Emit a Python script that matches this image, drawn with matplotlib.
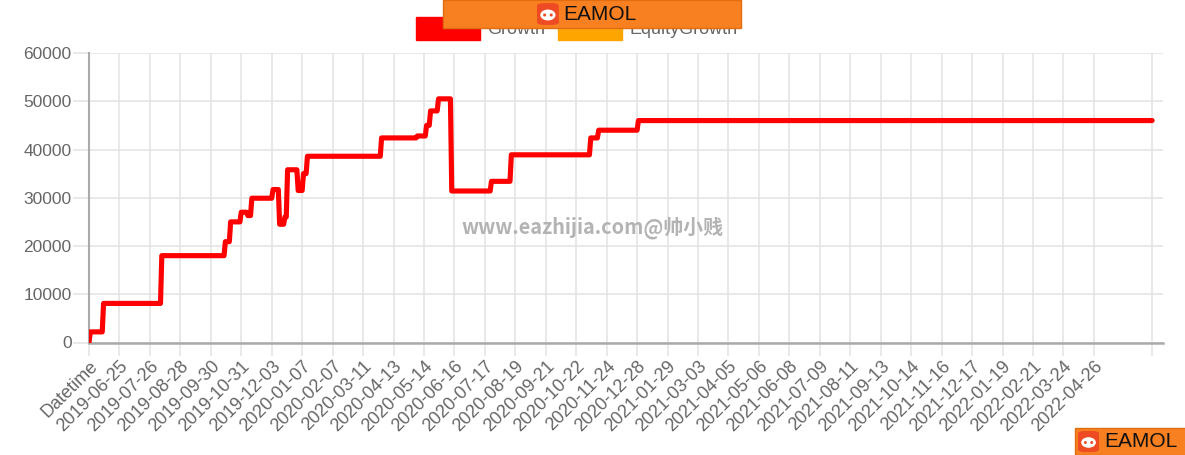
import matplotlib
matplotlib.use("Agg")
import matplotlib.pyplot as plt
import numpy as np
from matplotlib.patches import Rectangle, FancyBboxPatch, Ellipse

W, H = 1185, 455

# data: step changes of the Growth series, index = bar number (23 bars per labelled tick)
BARS_PER_TICK = 23
n_bars = 804
step_idx = [0, 1, 11, 55, 103, 107, 115, 120, 123, 139, 144, 148, 150, 158,
            162, 165, 221, 248, 255, 258, 264, 274, 304, 319, 379, 385, 415]
step_val = [0, 2200, 8100, 18000, 20900, 25000, 27000, 26300, 29900, 31700,
            24500, 26000, 35800, 31500, 35000, 38600, 42400, 42800, 45000,
            48000, 50500, 31400, 33400, 38900, 42400, 44000, 46000]

tick_labels = [
    "Datetime", "2019-06-25", "2019-07-26", "2019-08-28", "2019-09-30",
    "2019-10-31", "2019-12-03", "2020-01-07", "2020-02-07", "2020-03-11",
    "2020-04-13", "2020-05-14", "2020-06-16", "2020-07-17", "2020-08-19",
    "2020-09-21", "2020-10-22", "2020-11-24", "2020-12-28", "2021-01-29",
    "2021-03-03", "2021-04-05", "2021-05-06", "2021-06-08", "2021-07-09",
    "2021-08-11", "2021-09-13", "2021-10-14", "2021-11-16", "2021-12-17",
    "2022-01-19", "2022-02-21", "2022-03-24", "2022-04-26",
]
y_ticks = [0, 10000, 20000, 30000, 40000, 50000, 60000]

# expand the steps into one value per bar
growth = np.zeros(n_bars)
for i, start in enumerate(step_idx):
    growth[start:] = step_val[i]
bars = np.arange(n_bars)

FONT = "Liberation Sans"
GRID = "#e3e3e3"
TEXT = "#666666"


def fx(x):
    return x / W


def fy(y):
    return 1 - y / H


fig = plt.figure(figsize=(W / 100, H / 100), dpi=100)
ax = fig.add_axes([fx(89), fy(342.5), fx(1163 - 89), (342.5 - 53) / H])

ax.plot(bars, growth, color="#ff0000", lw=3.7, solid_joinstyle="round",
        solid_capstyle="round", zorder=3)

x_ticks = [i * BARS_PER_TICK for i in range(len(tick_labels))]
ax.set_xticks(x_ticks + [n_bars - 1])
ax.set_xticklabels(tick_labels + [""], rotation=45, ha="right", va="top",
                   rotation_mode="anchor", fontfamily=FONT, fontsize=13,
                   color=TEXT)
ax.set_yticks(y_ticks)
ax.set_yticklabels([str(v) for v in y_ticks], fontfamily=FONT, fontsize=12.5,
                   color=TEXT)
ax.set_xlim(0, (1163 - 89) / 30.45 * BARS_PER_TICK)
ax.set_ylim(0, 60000)

ax.grid(True, color=GRID, lw=1.1, zorder=0)
ax.tick_params(axis="y", length=11.5, color=GRID, width=1.1, pad=1)
ax.tick_params(axis="x", length=9, color=GRID, width=1.1, pad=2)
for name in ["top", "right"]:
    ax.spines[name].set_visible(False)
ax.spines["left"].set_color("#aaaaaa")
ax.spines["left"].set_linewidth(1.5)
ax.spines["bottom"].set_color("#aaaaaa")
ax.spines["bottom"].set_linewidth(1.8)

# watermark
fig.text(fx(592), fy(228), "www.eazhijia.com@帅小贱", ha="center", va="center",
         fontsize=14.3, fontweight="bold", color="#b3b3b3",
         family=["Noto Sans CJK SC", "DejaVu Sans"], zorder=5)

# legend (Chart.js style, partly hidden under the banner)
fig.patches.append(Rectangle((fx(416), fy(40)), fx(64), 23 / H,
                             transform=fig.transFigure, color="#ff0000",
                             zorder=1))
fig.patches.append(Rectangle((fx(558), fy(40)), fx(64), 23 / H,
                             transform=fig.transFigure, color="#ffa500",
                             zorder=1))
fig.text(fx(487), fy(30), "Growth", ha="left", va="center", fontsize=13,
         family=FONT, color=TEXT, zorder=1)
fig.text(fx(630), fy(30), "EquityGrowth", ha="left", va="center",
         fontsize=13, family=FONT, color=TEXT, zorder=1)


def eamol_badge(x0, y0, w, h, icon_x, text_x, fs):
    fig.patches.append(Rectangle((fx(x0), fy(y0 + h)), fx(w), h / H,
                                 transform=fig.transFigure,
                                 facecolor="#f98020", edgecolor="#e06d12",
                                 lw=1, zorder=10))
    s = h * 0.78
    cy = y0 + h / 2
    fig.patches.append(FancyBboxPatch((fx(icon_x), fy(cy + s / 2)), fx(s),
                                      s / H, boxstyle="round,pad=0,rounding_size=0.006",
                                      transform=fig.transFigure,
                                      facecolor="#ee4a24", edgecolor="none",
                                      zorder=11))
    fig.patches.append(Ellipse((fx(icon_x + s / 2), fy(cy + 1)), fx(s * 0.7),
                               s * 0.5 / H, transform=fig.transFigure,
                               facecolor="white", zorder=12))
    for dx in (-0.15, 0.15):
        fig.patches.append(Ellipse((fx(icon_x + s / 2 + dx * s), fy(cy + 1)),
                                   fx(s * 0.14), s * 0.14 / H,
                                   transform=fig.transFigure,
                                   facecolor="#ee4a24", zorder=13))
    fig.text(fx(text_x), fy(cy), "EAMOL", ha="left", va="center",
             fontsize=fs, family=FONT, color="#111111", zorder=12)


eamol_badge(443, 0, 298, 28, 537, 563, 15)
eamol_badge(1075, 428, 115, 27, 1078, 1104, 15)

fig.savefig("out.png", dpi=100)
